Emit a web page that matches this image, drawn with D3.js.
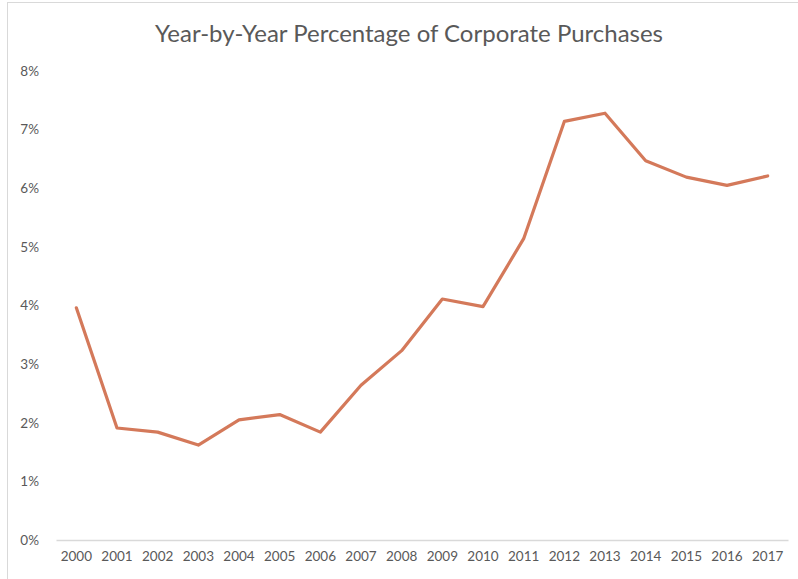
<!DOCTYPE html>
<html>
<head>
<meta charset="utf-8">
<script src="https://cdn.jsdelivr.net/npm/d3@7"></script>
<style>
  html, body { margin: 0; padding: 0; background: #fff; }
  svg { display: block; }
</style>
</head>
<body>
<svg id="chart" width="798" height="579"></svg>
<script>
const years = ["2000","2001","2002","2003","2004","2005","2006","2007","2008","2009","2010","2011","2012","2013","2014","2015","2016","2017"];
const values = [3.96, 1.91, 1.84, 1.62, 2.05, 2.14, 1.84, 2.64, 3.23, 4.11, 3.98, 5.14, 7.14, 7.28, 6.47, 6.19, 6.05, 6.21];
const yTicks = [0, 1, 2, 3, 4, 5, 6, 7, 8];
const title = "Year-by-Year Percentage of Corporate Purchases";

(function () {
const svg = d3.select("#chart");
const font = "Lato, 'Open Sans', sans-serif";
const textColor = "#595959";

// outer frame
svg.append("rect")
  .attr("x", 7.5).attr("y", 2.5)
  .attr("width", 820).attr("height", 620)
  .attr("fill", "none").attr("stroke", "#d9d9d9").attr("stroke-width", 1);

const mLeft = 56, mRight = 788, mTop = 71, mBottom = 540;

const x = d3.scaleBand().domain(years).range([mLeft, mRight]).padding(0);
const y = d3.scaleLinear().domain([0, 8]).range([mBottom, mTop]);

// title
svg.append("text")
  .attr("x", 409).attr("y", 42)
  .attr("text-anchor", "middle")
  .attr("font-family", font)
  .attr("font-size", 23)
  .attr("fill", textColor)
  .attr("textLength", 508).attr("lengthAdjust", "spacingAndGlyphs")
  .text(title);

// y axis labels
const yAxis = d3.axisLeft(y).tickValues(yTicks).tickFormat(d => d + "%").tickSize(0).tickPadding(0);
const gy = svg.append("g").attr("transform", "translate(39,0)").call(yAxis);
gy.select(".domain").remove();
gy.selectAll("text")
  .attr("font-family", font).attr("font-size", 13.5).attr("fill", textColor);

// x axis
const xAxis = d3.axisBottom(x).tickSize(0).tickPadding(11);
const gx = svg.append("g").attr("transform", `translate(0,${mBottom})`).call(xAxis);
gx.select(".domain").attr("stroke", "#d9d9d9").attr("stroke-width", 1.3);
gx.selectAll("text")
  .attr("font-family", font).attr("font-size", 13.5).attr("fill", textColor);

// line
const line = d3.line()
  .x((d, i) => x(years[i]) + x.bandwidth() / 2)
  .y(d => y(d));
svg.append("path")
  .datum(values)
  .attr("d", line)
  .attr("fill", "none")
  .attr("stroke", "#D4795A")
  .attr("stroke-width", 3.2)
  .attr("stroke-linejoin", "round")
  .attr("stroke-linecap", "round");
})();
</script>
</body>
</html>
